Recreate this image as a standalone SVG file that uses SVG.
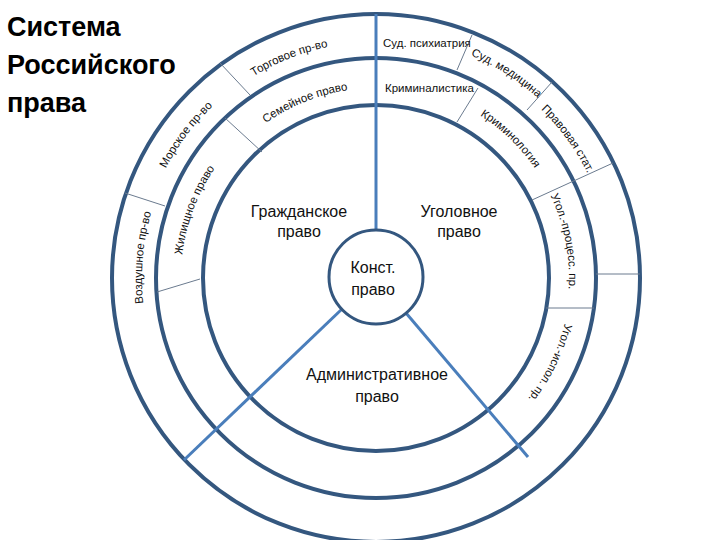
<svg xmlns="http://www.w3.org/2000/svg" width="720" height="540" viewBox="0 0 720 540">
<style>
.ring{fill:none;stroke:#34577f;stroke-width:4}
.hub{fill:#fff;stroke:#34577f;stroke-width:3}
.spoke{stroke:#4a7ebb;stroke-width:3;fill:none}
.div{stroke:#6b7b8f;stroke-width:1;fill:none}
.title{font-family:"Liberation Sans",Arial,sans-serif;font-weight:bold;font-size:27px;fill:#000}
.main{font-family:"Liberation Sans",Arial,sans-serif;font-size:16px;fill:#111;text-anchor:middle}
.small{font-family:"Liberation Sans",Arial,sans-serif;font-size:11.5px;fill:#111}
.arc{font-family:"Liberation Sans",Arial,sans-serif;font-size:11.5px;fill:#111;text-anchor:middle}
</style>
<defs>
<path id="p1" d="M159.6,183.9 A236,236 0 0 1 470.1,61.6"/>
<path id="p2" d="M201.1,203.8 A190,190 0 0 1 450.2,103.1"/>
<path id="p3" d="M323.6,41.7 A242,242 0 0 1 612.3,225.6"/>
<path id="p4" d="M412.9,44.9 A236,236 0 0 1 609.1,314.9"/>
<path id="p5" d="M372.6,85.0 A193,193 0 0 1 569.0,274.6"/>
<path id="p6" d="M483.9,118.0 A193,193 0 0 1 536.0,385.9"/>
<path id="p7" d="M559.4,214.8 A194,194 0 0 1 439.2,461.4"/>
<path id="p8" d="M141.3,311.0 A237,237 0 0 1 343.0,43.3"/>
<path id="p9" d="M196.7,428.4 A234,234 0 0 1 225.6,98.7"/>
<path id="p10" d="M198.6,358.9 A195,195 0 0 1 295.1,100.6"/>
</defs>
<rect width="720" height="540" fill="#fff"/>
<g id="title">
<text class="title" x="7" y="36">Система</text>
<text class="title" x="7" y="74">Российского</text>
<text class="title" x="7" y="112">права</text>
</g>
<g id="rings">
<circle class="ring" cx="376" cy="278" r="264"/>
<circle class="ring" cx="376" cy="278" r="220"/>
<circle class="ring" cx="376" cy="278" r="173"/>
</g>
<g id="connectors">
<line class="spoke" x1="376" y1="230" x2="376" y2="14"/>
<line class="spoke" x1="342" y1="309" x2="184" y2="460"/>
<line class="spoke" x1="406" y1="313" x2="528" y2="457"/>
<line class="div" x1="472" y1="35" x2="457" y2="70"/>
<line class="div" x1="552" y1="82" x2="527" y2="110"/>
<line class="div" x1="478" y1="88" x2="457" y2="122"/>
<line class="div" x1="613" y1="163" x2="532" y2="200"/>
<line class="div" x1="596" y1="274" x2="640" y2="274"/>
<line class="div" x1="546" y1="308" x2="594" y2="308"/>
<line class="div" x1="220" y1="63" x2="250" y2="95"/>
<line class="div" x1="225" y1="118" x2="262" y2="152"/>
<line class="div" x1="125" y1="193" x2="165" y2="206"/>
<line class="div" x1="157" y1="292" x2="200" y2="279"/>
</g>
<g id="konst">
<circle class="hub" cx="376" cy="277" r="47"/>
<text class="main" x="373" y="273">Конст.</text>
<text class="main" x="373" y="295">право</text>
</g>
<g id="grazhd">
<text class="main" x="299" y="217">Гражданское</text>
<text class="main" x="299" y="237">право</text>
</g>
<g id="ugol">
<text class="main" x="459" y="217">Уголовное</text>
<text class="main" x="459" y="237">право</text>
</g>
<g id="admin">
<text class="main" x="377" y="380">Административное</text>
<text class="main" x="377" y="402">право</text>
</g>
<g id="sud-psih"><text class="small" x="383" y="47">Суд. психиатрия</text></g>
<g id="kriminalistika"><text class="small" x="385" y="92">Криминалистика</text></g>
<g id="torg"><text class="arc"><textPath href="#p1" startOffset="50%">Торговое пр-во</textPath></text></g>
<g id="semeinoe"><text class="arc"><textPath href="#p2" startOffset="50%">Семейное право</textPath></text></g>
<g id="sud-med"><text class="arc"><textPath href="#p3" startOffset="50%">Суд. медицина</textPath></text></g>
<g id="prav-stat"><text class="arc"><textPath href="#p4" startOffset="50%">Правовая стат.</textPath></text></g>
<g id="kriminologia"><text class="arc"><textPath href="#p5" startOffset="50%">Криминология</textPath></text></g>
<g id="ugol-proc"><text class="arc"><textPath href="#p6" startOffset="50%">Угол.-процесс. пр.</textPath></text></g>
<g id="ugol-isp"><text class="arc"><textPath href="#p7" startOffset="50%">Угол.-испол. пр.</textPath></text></g>
<g id="morskoe"><text class="arc"><textPath href="#p8" startOffset="50%">Морское пр-во</textPath></text></g>
<g id="vozd"><text class="arc"><textPath href="#p9" startOffset="50%">Воздушное пр-во</textPath></text></g>
<g id="zhil"><text class="arc"><textPath href="#p10" startOffset="50%">Жилищное право</textPath></text></g>
</svg>
